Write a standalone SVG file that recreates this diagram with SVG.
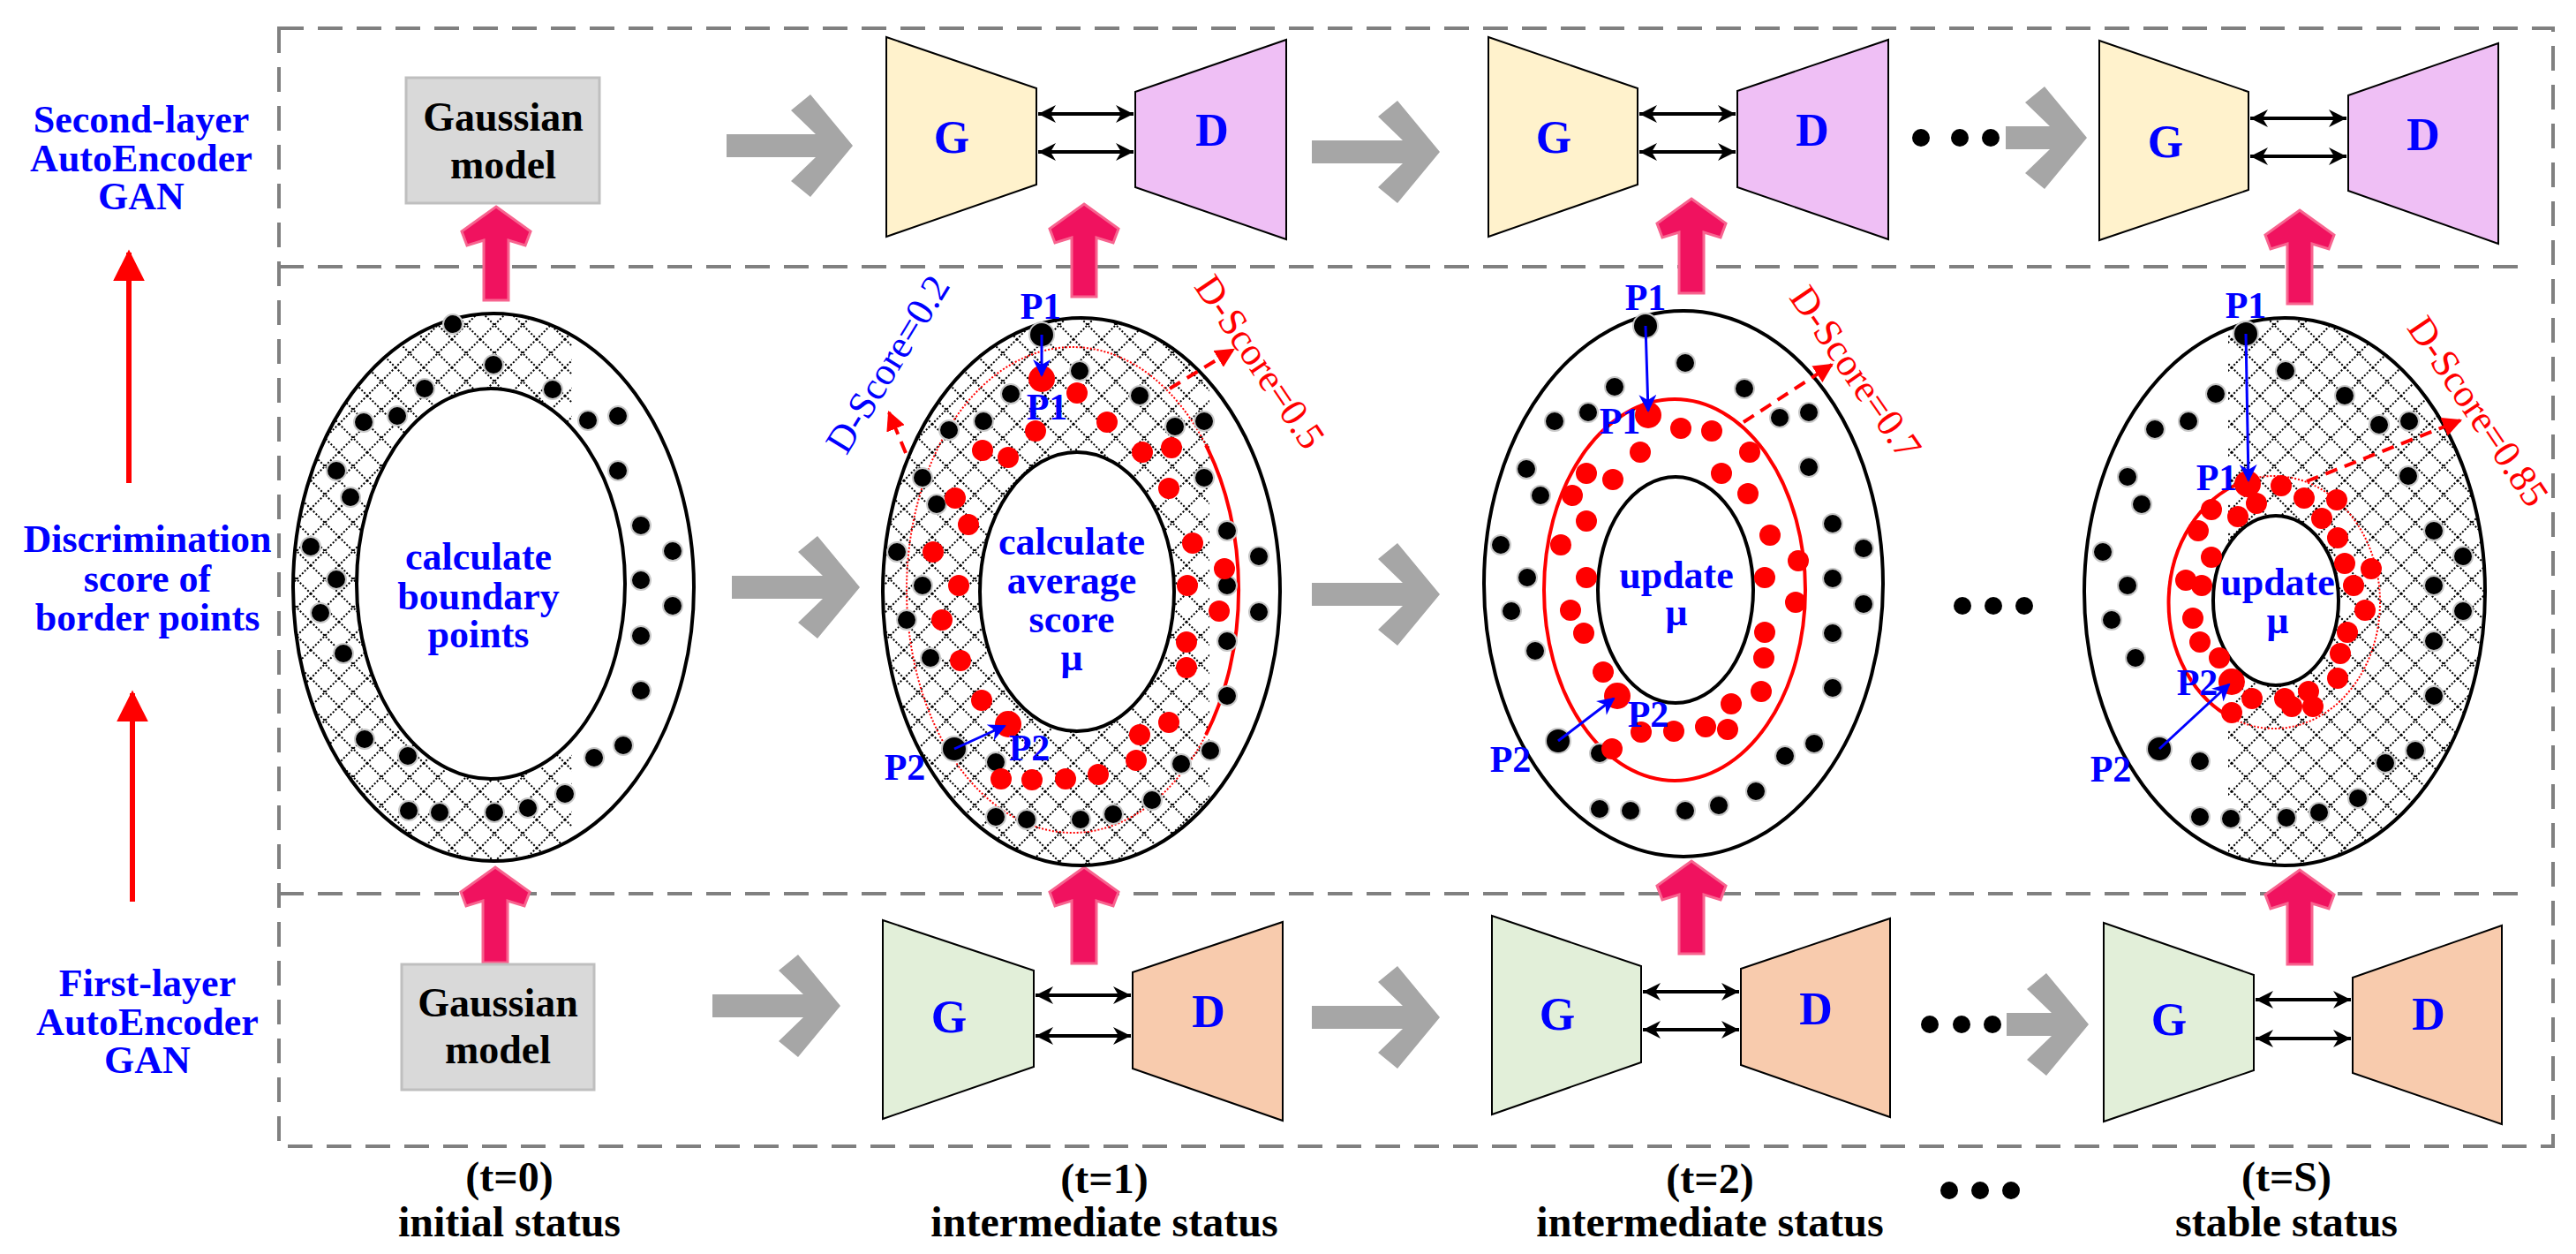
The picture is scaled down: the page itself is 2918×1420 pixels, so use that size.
<svg xmlns="http://www.w3.org/2000/svg" width="2918" height="1420" viewBox="0 0 2918 1420">
<style>
text{font-family:"Liberation Serif","Times New Roman",serif}
.lbl{font-size:44px;font-weight:bold;fill:#0000ff;text-anchor:middle}
.blk{font-size:46px;font-weight:bold;fill:#000;text-anchor:middle}
.bot{font-size:48px;font-weight:bold;fill:#000;text-anchor:middle}
.gd{font-size:52px;font-weight:bold;fill:#0000ff;text-anchor:middle}
.p{font-size:42px;font-weight:bold;fill:#0000ff;text-anchor:middle}
.ds{font-size:44px;text-anchor:middle}
.dash{fill:none;stroke:#808080;stroke-width:4;stroke-dasharray:28 16}
.gray{fill:#a6a6a6}
.pink{fill:#f0125f;stroke:#f7648f;stroke-width:3}
.b{fill:#000;stroke:#c8c8c8;stroke-width:2}
.r{fill:#ff0000}
.ring{fill:none;stroke:#000;stroke-width:4}
.dbl{stroke:#000;stroke-width:4;marker-start:url(#ka);marker-end:url(#ka)}
.barr{stroke:#0000ff;stroke-width:3;marker-end:url(#ba)}
.rarr{stroke:#ff0000;stroke-width:4;stroke-dasharray:14 9;fill:none;marker-end:url(#ra)}
.gen{stroke:#000;stroke-width:2}
</style>
<defs>
<marker id="ka" viewBox="0 0 10 10" refX="10" refY="5" markerWidth="20" markerHeight="20" orient="auto-start-reverse" markerUnits="userSpaceOnUse"><path d="M0,0 L10,5 L0,10 L3,5 Z" fill="#000"/></marker>
<marker id="ba" viewBox="0 0 10 10" refX="9" refY="5" markerWidth="20" markerHeight="20" orient="auto" markerUnits="userSpaceOnUse"><path d="M0,0 L10,5 L0,10 L3,5 Z" fill="#0000ff"/></marker>
<marker id="ra" viewBox="0 0 10 10" refX="9" refY="5" markerWidth="22" markerHeight="22" orient="auto" markerUnits="userSpaceOnUse"><path d="M0,0 L10,5 L0,10 Z" fill="#ff0000"/></marker>
<marker id="rup" viewBox="0 0 10 10" refX="9" refY="5" markerWidth="36" markerHeight="36" orient="auto" markerUnits="userSpaceOnUse"><path d="M0,0 L10,5 L0,10 Z" fill="#ff0000"/></marker>
<pattern id="hatch" width="32" height="32" patternUnits="userSpaceOnUse">
<path d="M0,0 L32,32 M32,0 L0,32" stroke="#000" stroke-width="2" stroke-dasharray="2 2"/>
</pattern>
<clipPath id="c0"><rect x="300" y="300" width="348" height="720"/></clipPath>
<clipPath id="c1"><rect x="980" y="300" width="390" height="720"/></clipPath>
<clipPath id="cS"><rect x="2524" y="300" width="400" height="720"/></clipPath>
</defs>

<g id="frames">
<rect class="dash" x="316" y="32" width="2576" height="1266"/>
<line class="dash" x1="316" y1="302" x2="2859" y2="302"/>
<line class="dash" x1="316" y1="1012" x2="2859" y2="1012"/>
</g>

<g id="side-labels">
<text class="lbl" x="160" y="150">Second-layer</text>
<text class="lbl" x="160" y="194">AutoEncoder</text>
<text class="lbl" x="160" y="237">GAN</text>
<text class="lbl" x="167" y="625">Discrimination</text>
<text class="lbl" x="167" y="670">score of</text>
<text class="lbl" x="167" y="714">border points</text>
<text class="lbl" x="167" y="1128">First-layer</text>
<text class="lbl" x="167" y="1172">AutoEncoder</text>
<text class="lbl" x="167" y="1215">GAN</text>
<line x1="146" y1="547" x2="146" y2="286" stroke="#ff0000" stroke-width="6" marker-end="url(#rup)"/>
<line x1="150" y1="1021" x2="150" y2="785" stroke="#ff0000" stroke-width="6" marker-end="url(#rup)"/>
</g>

<g id="connectors">
<polygon class="gray" transform="translate(966,165)" points="0,0 -48,-58 -70,-40 -42,-13 -143,-13 -143,13 -42,13 -70,40 -48,58"/>
<polygon class="gray" transform="translate(1631,172)" points="0,0 -48,-58 -70,-40 -42,-13 -145,-13 -145,13 -42,13 -70,40 -48,58"/>
<polygon class="gray" transform="translate(2364,156)" points="0,0 -48,-58 -70,-40 -42,-13 -92,-13 -92,13 -42,13 -70,40 -48,58"/>
<polygon class="gray" transform="translate(974,665)" points="0,0 -48,-58 -70,-40 -42,-13 -145,-13 -145,13 -42,13 -70,40 -48,58"/>
<polygon class="gray" transform="translate(1631,673)" points="0,0 -48,-58 -70,-40 -42,-13 -145,-13 -145,13 -42,13 -70,40 -48,58"/>
<polygon class="gray" transform="translate(952,1139)" points="0,0 -48,-58 -70,-40 -42,-13 -145,-13 -145,13 -42,13 -70,40 -48,58"/>
<polygon class="gray" transform="translate(1631,1152)" points="0,0 -48,-58 -70,-40 -42,-13 -145,-13 -145,13 -42,13 -70,40 -48,58"/>
<polygon class="gray" transform="translate(2366,1160)" points="0,0 -48,-58 -70,-40 -42,-13 -93,-13 -93,13 -42,13 -70,40 -48,58"/>
<polygon class="pink" transform="translate(562,234)" points="0,0 39,28 33,44 14,38 14,106 -14,106 -14,38 -33,44 -39,28"/>
<polygon class="pink" transform="translate(1228,231)" points="0,0 39,28 33,44 14,38 14,105 -14,105 -14,38 -33,44 -39,28"/>
<polygon class="pink" transform="translate(1916,225)" points="0,0 39,28 33,44 14,38 14,107 -14,107 -14,38 -33,44 -39,28"/>
<polygon class="pink" transform="translate(2605,238)" points="0,0 39,28 33,44 14,38 14,106 -14,106 -14,38 -33,44 -39,28"/>
<polygon class="pink" transform="translate(561,982)" points="0,0 39,28 33,44 14,38 14,108 -14,108 -14,38 -33,44 -39,28"/>
<polygon class="pink" transform="translate(1228,982)" points="0,0 39,28 33,44 14,38 14,109 -14,109 -14,38 -33,44 -39,28"/>
<polygon class="pink" transform="translate(1916,975)" points="0,0 39,28 33,44 14,38 14,105 -14,105 -14,38 -33,44 -39,28"/>
<polygon class="pink" transform="translate(2605,985)" points="0,0 39,28 33,44 14,38 14,107 -14,107 -14,38 -33,44 -39,28"/>
<line class="dbl" x1="1176" y1="129" x2="1284" y2="129"/>
<line class="dbl" x1="1176" y1="172" x2="1284" y2="172"/>
<line class="dbl" x1="1857" y1="129" x2="1966" y2="129"/>
<line class="dbl" x1="1857" y1="172" x2="1966" y2="172"/>
<line class="dbl" x1="2549" y1="134" x2="2658" y2="134"/>
<line class="dbl" x1="2549" y1="177" x2="2658" y2="177"/>
<line class="dbl" x1="1173" y1="1127" x2="1281" y2="1127"/>
<line class="dbl" x1="1173" y1="1173" x2="1281" y2="1173"/>
<line class="dbl" x1="1861" y1="1123" x2="1970" y2="1123"/>
<line class="dbl" x1="1861" y1="1166" x2="1970" y2="1166"/>
<line class="dbl" x1="2555" y1="1132" x2="2663" y2="1132"/>
<line class="dbl" x1="2555" y1="1176" x2="2663" y2="1176"/>
</g>

<g id="gauss-top"><rect x="460" y="88" width="219" height="142" fill="#d9d9d9" stroke="#bfbfbf" stroke-width="3"/><text class="blk" x="570" y="148">Gaussian</text><text class="blk" x="570" y="202">model</text></g>
<g id="gauss-bottom"><rect x="455" y="1092" width="218" height="142" fill="#d9d9d9" stroke="#bfbfbf" stroke-width="3"/><text class="blk" x="564" y="1151">Gaussian</text><text class="blk" x="564" y="1204">model</text></g>

<g id="gan2-t1"><polygon class="gen" fill="#fff2cc" points="1004,42 1174,100 1174,209 1004,268"/><text class="gd" x="1078" y="173">G</text><polygon class="gen" fill="#efbff5" points="1286,104 1457,45 1457,271 1286,212"/><text class="gd" x="1373" y="165">D</text></g>
<g id="gan2-t2"><polygon class="gen" fill="#fff2cc" points="1686,42 1855,100 1855,209 1686,268"/><text class="gd" x="1760" y="173">G</text><polygon class="gen" fill="#efbff5" points="1968,103 2139,45 2139,271 1968,212"/><text class="gd" x="2053" y="165">D</text></g>
<g id="gan2-tS"><polygon class="gen" fill="#fff2cc" points="2378,46 2547,104 2547,215 2378,272"/><text class="gd" x="2453" y="178">G</text><polygon class="gen" fill="#efbff5" points="2660,108 2830,49 2830,276 2660,216"/><text class="gd" x="2745" y="170">D</text></g>
<g id="gan1-t1"><polygon class="gen" fill="#e2efd9" points="1000,1042 1171,1099 1171,1208 1000,1267"/><text class="gd" x="1075" y="1169">G</text><polygon class="gen" fill="#f8cbad" points="1283,1101 1453,1044 1453,1269 1283,1210"/><text class="gd" x="1369" y="1163">D</text></g>
<g id="gan1-t2"><polygon class="gen" fill="#e2efd9" points="1690,1037 1859,1094 1859,1203 1690,1262"/><text class="gd" x="1764" y="1166">G</text><polygon class="gen" fill="#f8cbad" points="1972,1097 2141,1040 2141,1265 1972,1206"/><text class="gd" x="2057" y="1160">D</text></g>
<g id="gan1-tS"><polygon class="gen" fill="#e2efd9" points="2383,1045 2553,1104 2553,1212 2383,1270"/><text class="gd" x="2457" y="1172">G</text><polygon class="gen" fill="#f8cbad" points="2665,1107 2834,1048 2834,1273 2665,1215"/><text class="gd" x="2751" y="1166">D</text></g>

<g id="ellipse-t0">
<path clip-path="url(#c0)" fill="url(#hatch)" fill-rule="evenodd" d="M332,665 a227,310 0 1 0 454,0 a227,310 0 1 0 -454,0 Z M404,661 a152,221 0 1 0 304,0 a152,221 0 1 0 -304,0 Z"/>
<ellipse class="ring" cx="559" cy="665" rx="227" ry="310"/>
<ellipse class="ring" cx="556" cy="661" rx="152" ry="221"/>
<g>
<circle class="b" cx="513" cy="367" r="11"/><circle class="b" cx="559" cy="413" r="11"/><circle class="b" cx="481" cy="440" r="11"/><circle class="b" cx="626" cy="441" r="11"/><circle class="b" cx="412" cy="478" r="11"/><circle class="b" cx="450" cy="471" r="11"/><circle class="b" cx="666" cy="476" r="11"/><circle class="b" cx="700" cy="471" r="11"/><circle class="b" cx="381" cy="533" r="11"/><circle class="b" cx="397" cy="563" r="11"/><circle class="b" cx="700" cy="533" r="11"/><circle class="b" cx="352" cy="619" r="11"/><circle class="b" cx="726" cy="595" r="11"/><circle class="b" cx="762" cy="624" r="11"/><circle class="b" cx="381" cy="656" r="11"/><circle class="b" cx="726" cy="657" r="11"/><circle class="b" cx="363" cy="694" r="11"/><circle class="b" cx="762" cy="686" r="11"/><circle class="b" cx="389" cy="740" r="11"/><circle class="b" cx="726" cy="720" r="11"/><circle class="b" cx="726" cy="782" r="11"/><circle class="b" cx="413" cy="837" r="11"/><circle class="b" cx="462" cy="856" r="11"/><circle class="b" cx="673" cy="858" r="11"/><circle class="b" cx="706" cy="844" r="11"/><circle class="b" cx="640" cy="899" r="11"/><circle class="b" cx="463" cy="918" r="11"/><circle class="b" cx="498" cy="920" r="11"/><circle class="b" cx="560" cy="920" r="11"/><circle class="b" cx="598" cy="915" r="11"/>
</g>
<text class="lbl" x="542" y="645">calculate</text><text class="lbl" x="542" y="690">boundary</text><text class="lbl" x="542" y="733">points</text>
</g>

<g id="ellipse-t1">
<path clip-path="url(#c1)" fill="url(#hatch)" fill-rule="evenodd" d="M1000,670 a225,310 0 1 0 450,0 a225,310 0 1 0 -450,0 Z M1110,670 a110,158 0 1 0 220,0 a110,158 0 1 0 -220,0 Z"/>
<ellipse class="ring" cx="1225" cy="670" rx="225" ry="310"/>
<ellipse class="ring" cx="1220" cy="670" rx="110" ry="158"/>
<ellipse cx="1215" cy="668" rx="188" ry="275" fill="none" stroke="#ff0000" stroke-width="2" stroke-dasharray="2 2"/>
<path d="M1366,504 A188,275 0 0 1 1366,832" fill="none" stroke="#ff0000" stroke-width="4"/>
<g>
<circle class="b" cx="1223" cy="420" r="11"/><circle class="b" cx="1145" cy="446" r="11"/><circle class="b" cx="1291" cy="448" r="11"/><circle class="b" cx="1075" cy="487" r="11"/><circle class="b" cx="1114" cy="477" r="11"/><circle class="b" cx="1331" cy="483" r="11"/><circle class="b" cx="1364" cy="477" r="11"/><circle class="b" cx="1045" cy="541" r="11"/><circle class="b" cx="1364" cy="541" r="11"/><circle class="b" cx="1061" cy="571" r="11"/><circle class="b" cx="1390" cy="601" r="11"/><circle class="b" cx="1426" cy="630" r="11"/><circle class="b" cx="1016" cy="625" r="11"/><circle class="b" cx="1045" cy="663" r="11"/><circle class="b" cx="1390" cy="663" r="11"/><circle class="b" cx="1027" cy="702" r="11"/><circle class="b" cx="1426" cy="693" r="11"/><circle class="b" cx="1390" cy="726" r="11"/><circle class="b" cx="1054" cy="745" r="11"/><circle class="b" cx="1390" cy="788" r="11"/><circle class="b" cx="1128" cy="863" r="11"/><circle class="b" cx="1371" cy="850" r="11"/><circle class="b" cx="1338" cy="865" r="11"/><circle class="b" cx="1305" cy="906" r="11"/><circle class="b" cx="1128" cy="925" r="11"/><circle class="b" cx="1163" cy="928" r="11"/><circle class="b" cx="1224" cy="928" r="11"/><circle class="b" cx="1261" cy="922" r="11"/>
<circle class="b" cx="1180" cy="379" r="14"/><circle class="b" cx="1081" cy="848" r="14"/>
<circle class="r" cx="1180" cy="429" r="15"/><circle class="r" cx="1142" cy="820" r="15"/>
<circle class="r" cx="1220" cy="445" r="12"/><circle class="r" cx="1254" cy="478" r="12"/><circle class="r" cx="1173" cy="488" r="12"/><circle class="r" cx="1113" cy="510" r="12"/><circle class="r" cx="1142" cy="518" r="12"/><circle class="r" cx="1294" cy="512" r="12"/><circle class="r" cx="1327" cy="507" r="12"/><circle class="r" cx="1324" cy="553" r="12"/><circle class="r" cx="1082" cy="564" r="12"/><circle class="r" cx="1097" cy="594" r="12"/><circle class="r" cx="1057" cy="625" r="12"/><circle class="r" cx="1351" cy="615" r="12"/><circle class="r" cx="1086" cy="663" r="12"/><circle class="r" cx="1387" cy="644" r="12"/><circle class="r" cx="1345" cy="663" r="12"/><circle class="r" cx="1067" cy="702" r="12"/><circle class="r" cx="1381" cy="692" r="12"/><circle class="r" cx="1344" cy="727" r="12"/><circle class="r" cx="1088" cy="748" r="12"/><circle class="r" cx="1344" cy="756" r="12"/><circle class="r" cx="1112" cy="793" r="12"/><circle class="r" cx="1291" cy="832" r="12"/><circle class="r" cx="1324" cy="818" r="12"/><circle class="r" cx="1287" cy="861" r="12"/><circle class="r" cx="1134" cy="882" r="12"/><circle class="r" cx="1169" cy="883" r="12"/><circle class="r" cx="1207" cy="882" r="12"/><circle class="r" cx="1244" cy="877" r="12"/>
</g>
<line class="barr" x1="1180" y1="379" x2="1180" y2="425"/>
<line class="barr" x1="1081" y1="848" x2="1138" y2="822"/>
<text class="p" x="1179" y="361">P1</text><text class="p" x="1186" y="475">P1</text>
<text class="p" x="1025" y="883">P2</text><text class="p" x="1166" y="861">P2</text>
<line class="rarr" x1="1026" y1="513" x2="1007" y2="467"/>
<line class="rarr" x1="1325" y1="440" x2="1397" y2="396"/>
<text class="ds" fill="#0000ff" transform="translate(1018,420) rotate(-58.5)">D-Score=0.2</text>
<text class="ds" fill="#ff0000" transform="translate(1415,418) rotate(56)">D-Score=0.5</text>
<text class="lbl" x="1214" y="628">calculate</text><text class="lbl" x="1214" y="672">average</text><text class="lbl" x="1214" y="716">score</text><text class="lbl" x="1214" y="759">μ</text>
</g>

<g id="ellipse-t2">
<ellipse class="ring" cx="1907" cy="661" rx="226" ry="309"/>
<ellipse class="ring" cx="1898" cy="668" rx="88" ry="128"/>
<ellipse cx="1897" cy="668" rx="148" ry="216" fill="none" stroke="#ff0000" stroke-width="4"/>
<g>
<circle class="b" cx="1909" cy="411" r="11"/><circle class="b" cx="1829" cy="438" r="11"/><circle class="b" cx="1976" cy="440" r="11"/><circle class="b" cx="1761" cy="477" r="11"/><circle class="b" cx="1799" cy="467" r="11"/><circle class="b" cx="1729" cy="531" r="11"/><circle class="b" cx="1745" cy="561" r="11"/><circle class="b" cx="1700" cy="617" r="11"/><circle class="b" cx="1730" cy="654" r="11"/><circle class="b" cx="1712" cy="692" r="11"/><circle class="b" cx="1739" cy="737" r="11"/><circle class="b" cx="1812" cy="853" r="11"/><circle class="b" cx="1812" cy="916" r="11"/><circle class="b" cx="1847" cy="918" r="11"/><circle class="b" cx="1909" cy="918" r="11"/><circle class="b" cx="1947" cy="912" r="11"/><circle class="b" cx="1989" cy="896" r="11"/><circle class="b" cx="2016" cy="473" r="11"/><circle class="b" cx="2049" cy="467" r="11"/><circle class="b" cx="2049" cy="529" r="11"/><circle class="b" cx="2076" cy="593" r="11"/><circle class="b" cx="2111" cy="621" r="11"/><circle class="b" cx="2076" cy="655" r="11"/><circle class="b" cx="2111" cy="684" r="11"/><circle class="b" cx="2076" cy="717" r="11"/><circle class="b" cx="2076" cy="779" r="11"/><circle class="b" cx="2055" cy="842" r="11"/><circle class="b" cx="2022" cy="856" r="11"/>
<circle class="b" cx="1864" cy="369" r="14"/><circle class="b" cx="1765" cy="839" r="14"/>
<circle class="r" cx="1867" cy="470" r="15"/><circle class="r" cx="1832" cy="788" r="15"/>
<circle class="r" cx="1904" cy="485" r="12"/><circle class="r" cx="1939" cy="488" r="12"/><circle class="r" cx="1858" cy="512" r="12"/><circle class="r" cx="1982" cy="512" r="12"/><circle class="r" cx="1797" cy="536" r="12"/><circle class="r" cx="1827" cy="543" r="12"/><circle class="r" cx="1950" cy="536" r="12"/><circle class="r" cx="1781" cy="561" r="12"/><circle class="r" cx="1980" cy="559" r="12"/><circle class="r" cx="1797" cy="590" r="12"/><circle class="r" cx="1768" cy="617" r="12"/><circle class="r" cx="1797" cy="654" r="12"/><circle class="r" cx="1779" cy="691" r="12"/><circle class="r" cx="1794" cy="717" r="12"/><circle class="r" cx="1816" cy="761" r="12"/><circle class="r" cx="1961" cy="797" r="12"/><circle class="r" cx="1859" cy="829" r="12"/><circle class="r" cx="1896" cy="828" r="12"/><circle class="r" cx="1932" cy="823" r="12"/><circle class="r" cx="1957" cy="826" r="12"/><circle class="r" cx="1826" cy="848" r="12"/><circle class="r" cx="2005" cy="606" r="12"/><circle class="r" cx="2037" cy="635" r="12"/><circle class="r" cx="1999" cy="654" r="12"/><circle class="r" cx="2034" cy="682" r="12"/><circle class="r" cx="1999" cy="716" r="12"/><circle class="r" cx="1998" cy="745" r="12"/><circle class="r" cx="1995" cy="783" r="12"/>
</g>
<line class="barr" x1="1864" y1="369" x2="1867" y2="465"/>
<line class="barr" x1="1765" y1="839" x2="1828" y2="791"/>
<text class="p" x="1864" y="351">P1</text><text class="p" x="1835" y="491">P1</text>
<text class="p" x="1711" y="874">P2</text><text class="p" x="1867" y="823">P2</text>
<line class="rarr" x1="1975" y1="478" x2="2075" y2="413"/>
<text class="ds" fill="#ff0000" transform="translate(2090,430) rotate(55.5)">D-Score=0.7</text>
<text class="lbl" x="1899" y="666">update</text><text class="lbl" x="1899" y="708">μ</text>
</g>

<g id="ellipse-tS">
<path clip-path="url(#cS)" fill="url(#hatch)" fill-rule="evenodd" d="M2361,670 a227,310 0 1 0 454,0 a227,310 0 1 0 -454,0 Z M2507,680 a71,96 0 1 0 142,0 a71,96 0 1 0 -142,0 Z"/>
<ellipse class="ring" cx="2588" cy="670" rx="227" ry="310"/>
<ellipse class="ring" cx="2578" cy="680" rx="71" ry="96"/>
<ellipse cx="2576" cy="682" rx="120" ry="143" fill="none" stroke="#ff0000" stroke-width="2" stroke-dasharray="2 2"/>
<path d="M2540,546 A120,143 0 0 0 2530,814" fill="none" stroke="#ff0000" stroke-width="4"/>
<g>
<circle class="b" cx="2589" cy="420" r="11"/><circle class="b" cx="2510" cy="446" r="11"/><circle class="b" cx="2656" cy="448" r="11"/><circle class="b" cx="2441" cy="486" r="11"/><circle class="b" cx="2479" cy="477" r="11"/><circle class="b" cx="2695" cy="481" r="11"/><circle class="b" cx="2729" cy="477" r="11"/><circle class="b" cx="2728" cy="539" r="11"/><circle class="b" cx="2410" cy="540" r="11"/><circle class="b" cx="2426" cy="571" r="11"/><circle class="b" cx="2757" cy="601" r="11"/><circle class="b" cx="2790" cy="630" r="11"/><circle class="b" cx="2382" cy="625" r="11"/><circle class="b" cx="2757" cy="663" r="11"/><circle class="b" cx="2410" cy="663" r="11"/><circle class="b" cx="2790" cy="692" r="11"/><circle class="b" cx="2392" cy="702" r="11"/><circle class="b" cx="2757" cy="726" r="11"/><circle class="b" cx="2419" cy="745" r="11"/><circle class="b" cx="2757" cy="788" r="11"/><circle class="b" cx="2492" cy="862" r="11"/><circle class="b" cx="2736" cy="850" r="11"/><circle class="b" cx="2702" cy="864" r="11"/><circle class="b" cx="2671" cy="904" r="11"/><circle class="b" cx="2492" cy="925" r="11"/><circle class="b" cx="2527" cy="927" r="11"/><circle class="b" cx="2590" cy="926" r="11"/><circle class="b" cx="2627" cy="920" r="11"/>
<circle class="b" cx="2544" cy="378" r="14"/><circle class="b" cx="2446" cy="848" r="14"/>
<circle class="r" cx="2546" cy="548" r="15"/><circle class="r" cx="2528" cy="772" r="15"/>
<circle class="r" cx="2584" cy="550" r="12"/><circle class="r" cx="2556" cy="570" r="12"/><circle class="r" cx="2610" cy="564" r="12"/><circle class="r" cx="2647" cy="566" r="12"/><circle class="r" cx="2505" cy="577" r="12"/><circle class="r" cx="2535" cy="585" r="12"/><circle class="r" cx="2630" cy="587" r="12"/><circle class="r" cx="2490" cy="601" r="12"/><circle class="r" cx="2648" cy="609" r="12"/><circle class="r" cx="2505" cy="631" r="12"/><circle class="r" cx="2656" cy="638" r="12"/><circle class="r" cx="2686" cy="644" r="12"/><circle class="r" cx="2476" cy="657" r="12"/><circle class="r" cx="2494" cy="663" r="12"/><circle class="r" cx="2666" cy="663" r="12"/><circle class="r" cx="2679" cy="691" r="12"/><circle class="r" cx="2484" cy="700" r="12"/><circle class="r" cx="2659" cy="716" r="12"/><circle class="r" cx="2492" cy="727" r="12"/><circle class="r" cx="2651" cy="740" r="12"/><circle class="r" cx="2514" cy="745" r="12"/><circle class="r" cx="2648" cy="768" r="12"/><circle class="r" cx="2551" cy="791" r="12"/><circle class="r" cx="2588" cy="791" r="12"/><circle class="r" cx="2615" cy="783" r="12"/><circle class="r" cx="2596" cy="800" r="12"/><circle class="r" cx="2620" cy="800" r="12"/><circle class="r" cx="2528" cy="807" r="12"/>
</g>
<line class="barr" x1="2544" y1="378" x2="2547" y2="544"/>
<line class="barr" x1="2446" y1="848" x2="2525" y2="775"/>
<text class="p" x="2544" y="360">P1</text><text class="p" x="2511" y="555">P1</text>
<text class="p" x="2391" y="885">P2</text><text class="p" x="2489" y="787">P2</text>
<line class="rarr" x1="2613" y1="545" x2="2787" y2="476"/>
<text class="ds" fill="#ff0000" transform="translate(2795,474) rotate(56)">D-Score=0.85</text>
<text class="lbl" x="2580" y="674">update</text><text class="lbl" x="2580" y="717">μ</text>
</g>

<g id="ellipsis">
<circle cx="2176" cy="156" r="10"/><circle cx="2220" cy="156" r="10"/><circle cx="2255" cy="156" r="10"/>
<circle cx="2223" cy="686" r="10"/><circle cx="2258" cy="686" r="10"/><circle cx="2293" cy="686" r="10"/>
<circle cx="2186" cy="1160" r="10"/><circle cx="2222" cy="1160" r="10"/><circle cx="2257" cy="1160" r="10"/>
<circle cx="2208" cy="1348" r="10"/><circle cx="2243" cy="1348" r="10"/><circle cx="2278" cy="1348" r="10"/>
</g>

<g id="time-labels">
<text class="bot" x="577" y="1349">(t=0)</text><text class="bot" x="577" y="1400">initial status</text>
<text class="bot" x="1251" y="1351">(t=1)</text><text class="bot" x="1251" y="1400">intermediate status</text>
<text class="bot" x="1937" y="1351">(t=2)</text><text class="bot" x="1937" y="1400">intermediate status</text>
<text class="bot" x="2590" y="1349">(t=S)</text><text class="bot" x="2590" y="1400">stable status</text>
</g>
</svg>
